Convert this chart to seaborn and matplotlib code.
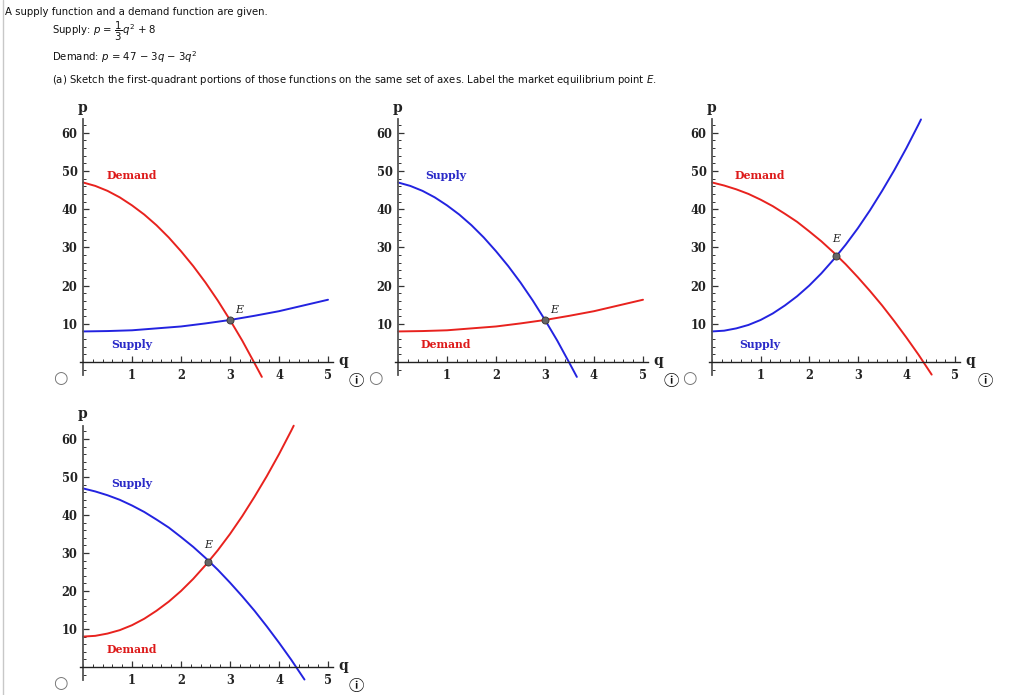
import numpy as np
import pandas as pd
import matplotlib
matplotlib.use("Agg")
import matplotlib.pyplot as plt
from matplotlib.ticker import MultipleLocator
import seaborn as sns

sns.set_style("white")
plt.rcParams['font.family'] = ['DejaVu Sans', 'Noto Sans CJK JP']
plt.rcParams['mathtext.fontset'] = 'dejavusans'

# ---------------- data ----------------
# gently rising curve (p = q^2/3 + 8 shape)
q_flat = [0, 0.5, 1.0, 1.5, 2.0, 2.5, 3.0, 3.5, 4.0, 4.5, 5.0]
p_flat = [8.0, 8.1, 8.3, 8.8, 9.3, 10.1, 11.0, 12.1, 13.3, 14.8, 16.3]

# steep falling curve (panels 1, 2)
q_fall = [0, 0.25, 0.5, 0.75, 1.0, 1.25, 1.5, 1.75, 2.0, 2.25, 2.5, 2.75, 3.0, 3.25, 3.5, 3.65]
p_fall = [47.0, 46.1, 44.8, 43.1, 41.0, 38.6, 35.8, 32.6, 29.0, 25.1, 20.8, 16.1, 11.0, 5.6, -0.3, -3.9]

# steep rising curve (panels 3, 4)
q_rise = [0, 0.25, 0.5, 0.75, 1.0, 1.25, 1.5, 1.75, 2.0, 2.25, 2.5, 2.75, 3.0, 3.25, 3.5, 3.75, 4.0, 4.25, 4.3]
p_rise = [8.0, 8.2, 8.8, 9.7, 11.0, 12.7, 14.8, 17.2, 20.0, 23.2, 26.8, 30.7, 35.0, 39.7, 44.8, 50.2, 56.0, 62.2, 63.5]

# gentler falling curve (panels 3, 4)
q_dec = [0, 0.25, 0.5, 0.75, 1.0, 1.25, 1.5, 1.75, 2.0, 2.25, 2.5, 2.75, 3.0, 3.25, 3.5, 3.75, 4.0, 4.25, 4.52]
p_dec = [47.0, 46.2, 45.2, 44.0, 42.5, 40.8, 38.8, 36.7, 34.2, 31.6, 28.7, 25.6, 22.2, 18.6, 14.8, 10.7, 6.4, 1.9, -3.3]

equilibria = [(3.0, 11.0), (3.0, 11.0), (2.55, 27.7), (2.55, 27.7)]

x_ticks = [1, 2, 3, 4, 5]
y_ticks = [10, 20, 30, 40, 50, 60]

header_lines = [
    "A supply function and a demand function are given.",
    r"Supply: $p$ = $\dfrac{1}{3}q^2$ + 8",
    r"Demand: $p$ = 47 $-$ 3$q$ $-$ 3$q^2$",
    r"(a) Sketch the first-quadrant portions of those functions on the same set of axes. Label the market equilibrium point $E$.",
]

RED = "#e8221e"
BLUE = "#2323e0"
RED_T = "#dd1a1a"
BLUE_T = "#2a2ac8"

W, H = 1024, 695
fig = plt.figure(figsize=(W / 100, H / 100), dpi=100)

# light left border
fig.add_artist(plt.Line2D([2.5 / W, 2.5 / W], [0, 1], color="#c8c8c8", lw=1.0))

# header
HS = 7.3
for (x, y), line in zip([(5, 12), (52, 31), (52, 57), (52, 80)], header_lines):
    fig.text(x / W, 1 - y / H, line, fontsize=HS, va="center", ha="left", color="#111")

XMIN, XMAX = -0.06, 5.1
YMIN, YMAX = -3.5, 63.5

panels = [
    dict(X0=83, Y0=362, sx=49, sy=3.82,
         curves=[(q_flat, p_flat, BLUE), (q_fall, p_fall, RED)],
         labels=[("Demand", 1.0, 48.7, RED_T), ("Supply", 1.0, 4.7, BLUE_T)],
         E=(3.18, 13.6), radio=(60, 378), info=(356, 381)),
    dict(X0=398, Y0=362, sx=49, sy=3.82,
         curves=[(q_flat, p_flat, RED), (q_fall, p_fall, BLUE)],
         labels=[("Supply", 0.98, 48.7, BLUE_T), ("Demand", 0.98, 4.7, RED_T)],
         E=(3.18, 13.6), radio=(375, 378), info=(671, 381)),
    dict(X0=712, Y0=362, sx=48.6, sy=3.82,
         curves=[(q_dec, p_dec, RED), (q_rise, p_rise, BLUE)],
         labels=[("Demand", 0.99, 48.7, RED_T), ("Supply", 0.99, 4.7, BLUE_T)],
         E=(2.55, 32.2), radio=(689, 378), info=(985, 381)),
    dict(X0=83, Y0=667, sx=49, sy=3.8,
         curves=[(q_rise, p_rise, RED), (q_dec, p_dec, BLUE)],
         labels=[("Supply", 1.0, 48.4, BLUE_T), ("Demand", 1.0, 4.7, RED_T)],
         E=(2.55, 32.0), radio=(60, 683), info=(356, 686)),
]

serif = "DejaVu Serif"
for i, pn in enumerate(panels):
    left = pn["X0"] + XMIN * pn["sx"]
    width = (XMAX - XMIN) * pn["sx"]
    top = pn["Y0"] - YMAX * pn["sy"]
    height = (YMAX - YMIN) * pn["sy"]
    ax = fig.add_axes([left / W, 1 - (top + height) / H, width / W, height / H])
    ax.set_facecolor("none")

    for q, p, c in pn["curves"]:
        df = pd.DataFrame({"q": q, "p": p})
        sns.lineplot(data=df, x="q", y="p", ax=ax, color=c, lw=1.4,
                     sort=False, estimator=None)
        ax.lines[-1].set_clip_on(False)
        ax.lines[-1].set_solid_joinstyle("round")

    eq = equilibria[i]
    sns.scatterplot(x=[eq[0]], y=[eq[1]], ax=ax, s=26, color="#666666",
                    edgecolor="#333333", linewidth=0.6, zorder=5, clip_on=False)

    for txt, lq, lp, c in pn["labels"]:
        ax.text(lq, lp, txt, color=c, fontsize=7.8, fontweight="bold",
                family=serif, ha="center", va="center")
    ax.text(pn["E"][0], pn["E"][1], "E", fontsize=7.8, style="italic",
            family=serif, ha="center", va="center", color="#222")

    ax.set_xlim(XMIN, XMAX)
    ax.set_ylim(YMIN, YMAX)
    ax.set_xlabel("")
    ax.set_ylabel("")
    for s in ["top", "right"]:
        ax.spines[s].set_visible(False)
    ax.spines["left"].set_position(("data", 0))
    ax.spines["bottom"].set_position(("data", 0))
    ax.spines["left"].set_color("#555")
    ax.spines["bottom"].set_color("#222")
    ax.spines["left"].set_linewidth(1.3)
    ax.spines["bottom"].set_linewidth(1.0)

    ax.set_xticks(x_ticks)
    ax.set_yticks(y_ticks)
    ax.xaxis.set_minor_locator(MultipleLocator(0.2))
    ax.yaxis.set_minor_locator(MultipleLocator(2))
    ax.tick_params(axis="both", which="both", bottom=True, left=True, top=False, right=False)
    ax.tick_params(axis="both", which="major", direction="in", length=4, width=0.9,
                   color="#333", labelsize=8.3, labelcolor="#222", pad=4)
    ax.tick_params(axis="both", which="minor", direction="in", length=2.2, width=0.7, color="#333")
    ax.tick_params(axis="x", which="major", pad=5)
    for lab in ax.get_xticklabels() + ax.get_yticklabels():
        lab.set_family(serif)
        lab.set_fontweight("bold")
    ax.grid(False)

    ax.text(0, 66.5, "p", fontsize=10, fontweight="bold", family=serif,
            ha="center", va="center", color="#222", clip_on=False)
    ax.text(5.32, 0.3, "q", fontsize=10, fontweight="bold", family=serif,
            ha="center", va="center", color="#222", clip_on=False)

    rx, ry = pn["radio"]
    fig.text(rx / W, 1 - ry / H, "○", fontsize=12, ha="center", va="center", color="#777")
    ix, iy = pn["info"]
    fig.text(ix / W, 1 - iy / H, "ⓘ", fontsize=11, ha="center", va="center", color="#111",
             fontweight="bold", family=["Noto Sans CJK JP", "DejaVu Sans"])

fig.savefig("out.png", dpi=100)
